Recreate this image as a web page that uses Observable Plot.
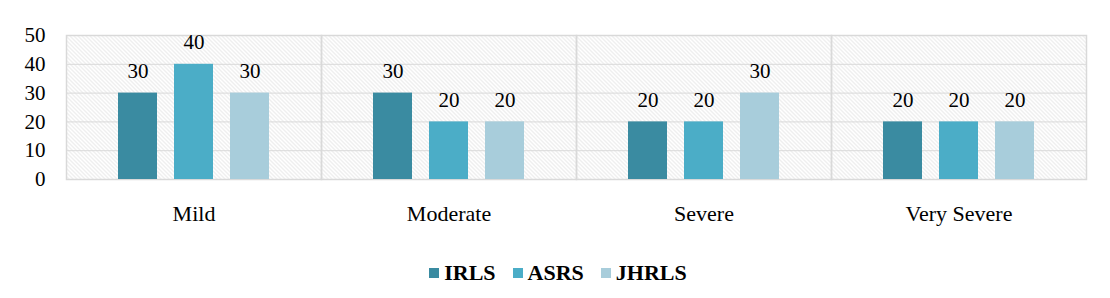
<!DOCTYPE html>
<html>
<head>
<meta charset="utf-8">
<script src="https://cdn.jsdelivr.net/npm/d3@7"></script>
<script src="https://cdn.jsdelivr.net/npm/@observablehq/plot@0.6"></script>
</head>
<body style="margin:0;padding:0;background:#fff">
<div id="chart" style="width:1110px;height:298px;position:relative"></div>
<script>
const categories = ["Mild", "Moderate", "Severe", "Very Severe"];
const seriesNames = ["IRLS", "ASRS", "JHRLS"];
const irlsValues = [30, 30, 20, 20];
const asrsValues = [40, 20, 20, 20];
const jhrlsValues = [30, 20, 30, 20];
const yTicks = [0, 10, 20, 30, 40, 50];
const colors = ["#3A8BA1", "#4BADC7", "#A8CDDB"];
const FONT = "Liberation Serif";

const seriesValues = [irlsValues, asrsValues, jhrlsValues];
const data = [];
categories.forEach((c, i) => {
  seriesNames.forEach((s, j) => data.push({category: c, series: s, value: seriesValues[j][i]}));
});

const chart = Plot.plot({
  width: 1110,
  height: 245,
  marginLeft: 64,
  marginRight: 23,
  marginTop: 35,
  marginBottom: 66,
  style: {color: "#000", background: "#fff", fontFamily: FONT, fontSize: "21px"},
  fx: {domain: categories, padding: 0, label: null, tickSize: 0, tickPadding: 26},
  x: {domain: seriesNames, paddingInner: 0.3, paddingOuter: 0.92, axis: null},
  y: {domain: [0, 50], ticks: yTicks, tickSize: 0, tickPadding: 21, label: null, tickFormat: d => d},
  color: {domain: seriesNames, range: colors},
  marks: [
    Plot.frame({fill: "url(#hatch)", stroke: "none"}),
    Plot.gridY(yTicks, {stroke: "#D9D9D9", strokeOpacity: 1, strokeWidth: 1}),
    Plot.frame({stroke: "#D9D9D9", strokeWidth: 1.5}),
    Plot.barY(data, {fx: "category", x: "series", y: "value", fill: "series"}),
    Plot.text(data, {fx: "category", x: "series", y: "value", text: d => String(d.value), lineAnchor: "bottom", dy: -15, fill: "#000", fontSize: 21})
  ]
});

chart.querySelectorAll("text, g").forEach(el => {
  el.setAttribute("font-family", FONT);
  el.style.fontFamily = FONT;
});
// category labels slightly larger
chart.querySelectorAll("g[aria-label='fx-axis tick label'] text").forEach(el => {
  el.style.fontSize = "22px";
});

const ns = "http://www.w3.org/2000/svg";
const defs = document.createElementNS(ns, "defs");
defs.innerHTML = '<pattern id="hatch" patternUnits="userSpaceOnUse" width="4" height="4">' +
  '<rect width="4" height="4" fill="#fff"/>' +
  '<path d="M-1,-1 L5,5 M-1,3 L1,5 M3,-1 L5,1" stroke="#D6D6D6" stroke-width="0.8"/></pattern>';
chart.insertBefore(defs, chart.firstChild);

document.getElementById("chart").appendChild(chart);

const legend = document.createElement("div");
legend.style.cssText = "display:flex;justify-content:center;align-items:center;gap:17px;font-weight:bold;font-size:22px;color:#000;margin-top:15px;padding-left:6px;line-height:26px";
legend.style.fontFamily = FONT;
seriesNames.forEach((s, i) => {
  const item = document.createElement("span");
  item.style.cssText = "display:flex;align-items:center;gap:5px";
  item.style.fontFamily = FONT;
  const sw = document.createElement("span");
  sw.style.cssText = "width:10px;height:10px;display:inline-block";
  sw.style.background = colors[i];
  const t = document.createElement("span");
  t.style.fontFamily = FONT;
  t.textContent = s;
  item.appendChild(sw);
  item.appendChild(t);
  legend.appendChild(item);
});
document.getElementById("chart").appendChild(legend);
</script>
</body>
</html>
